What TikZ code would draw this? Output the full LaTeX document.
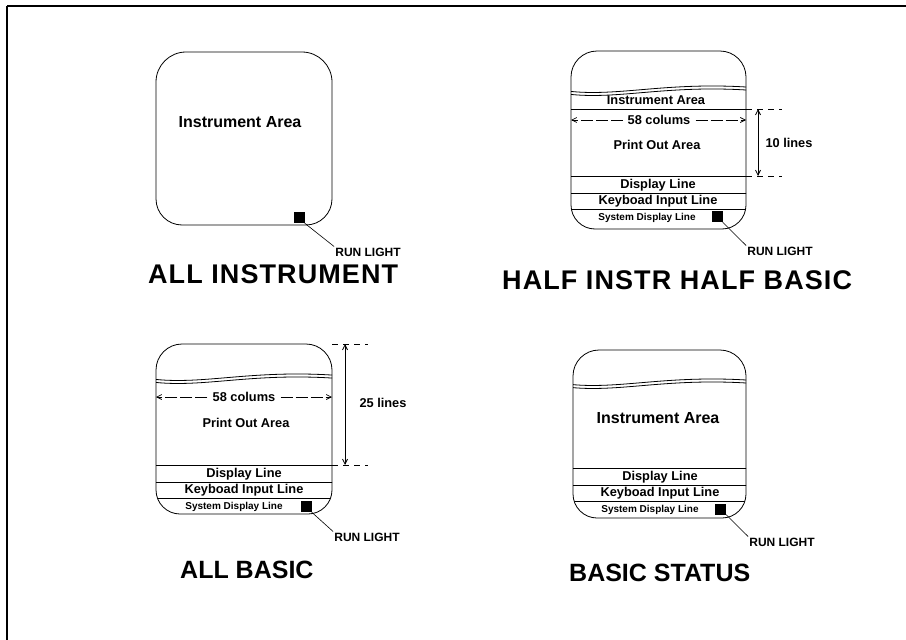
\documentclass[tikz,border=0pt]{standalone}
\usepackage{fontspec}
\setmainfont{Liberation Sans}
\newfontfamily\capfont[LetterSpace=4]{Liberation Sans}
\usetikzlibrary{arrows.meta}
% l t r b rtop rbottom options
\newcommand\rboxpath[7]{\path[#7] (#1,#2+#5) .. controls (#1,#2+0.45*#5) and (#1+0.45*#5,#2) .. (#1+#5,#2) -- (#3-#5,#2) .. controls (#3-0.45*#5,#2) and (#3,#2+0.45*#5) .. (#3,#2+#5) -- (#3,#4-#6) .. controls (#3,#4-0.45*#6) and (#3-0.45*#6,#4) .. (#3-#6,#4) -- (#1+#6,#4) .. controls (#1+0.45*#6,#4) and (#1,#4-0.45*#6) .. (#1,#4-#6) -- cycle;}
\begin{document}
\begin{tikzpicture}[x=1pt,y=-1pt,
  boxline/.style={draw=black,line width=0.8pt},
  sepline/.style={line width=0.8pt},
  lbl/.style={font=\bfseries\fontsize{12.8}{13}\selectfont, inner sep=0pt},
  collbl/.style={font=\bfseries\fontsize{12.8}{13}\selectfont, inner sep=5pt},
  biglbl/.style={font=\bfseries\fontsize{16}{16}\selectfont, inner sep=0pt},
  syslbl/.style={font=\bfseries\fontsize{10}{10}\selectfont, inner sep=0pt},
  captop/.style={font=\capfont\bfseries\fontsize{27}{27}\selectfont, inner sep=0pt, anchor=west},
  capbot/.style={font=\bfseries\fontsize{25}{25}\selectfont, inner sep=0pt, anchor=west},
  runsq/.style={fill=black, minimum size=11pt, inner sep=0pt},
  runlbl/.style={font=\bfseries\fontsize{12}{12}\selectfont, inner sep=1pt},
  leader/.style={line width=0.6pt},
  colarrow/.style={line width=0.7pt, dash pattern=on 12pt off 3pt, -{Straight Barb[length=5pt,width=5pt]}},
  dimarrow/.style={line width=0.8pt, {Straight Barb[length=5pt,width=5pt]}-{Straight Barb[length=5pt,width=5pt]}},
  extline/.style={line width=0.7pt, dash pattern=on 6pt off 5pt},
  wave/.style={line width=0.8pt}
]
\useasboundingbox (0,0) rectangle (906,640);
\fill[white] (0,0) rectangle (906,640);
% frame
\coordinate (fTL) at (7,6);
\coordinate (fTR) at (906,6);
\coordinate (fBL) at (7,640);
\draw[line width=2pt] (fTL) -- (fTR);
\draw[line width=1.2pt] (fTL) -- (fBL);

% ---------- Panel 1: ALL INSTRUMENT ----------
\rboxpath{156}{52}{332}{225}{30}{26}{boxline}
\node[biglbl] (ia1) at (240,122) {Instrument Area};
\node[runsq] (sq1) at (299,217.5) {};
\node[runlbl] (rl1) at (368,252) {RUN LIGHT};
\draw[leader] (sq1.south east) -- (rl1.north west);
\node[captop] (cap1) at (148,274) {ALL INSTRUMENT};

% ---------- Panel 2: HALF INSTR HALF BASIC ----------
\begin{scope}
\rboxpath{571}{51}{746}{229}{26}{24}{clip}
\draw[wave] (560,90) .. controls (615,99) and (665,80) .. (760,88);
\draw[wave] (560,93) .. controls (615,102) and (665,83) .. (760,91);
\draw[sepline] (560,109) -- (760,109);
\draw[sepline] (560,176) -- (760,176);
\draw[sepline] (560,193) -- (760,193);
\draw[sepline] (560,209) -- (760,209);
\end{scope}
\rboxpath{571}{51}{746}{229}{26}{24}{boxline}
\node[lbl] (ia2) at (656,100) {Instrument Area};
\node[collbl] (c2) at (659,120) {58 colums};
\coordinate (c2L) at (571,120);
\coordinate (c2R) at (746,120);
\draw[colarrow] (c2.west) -- (c2L);
\draw[colarrow] (c2.east) -- (c2R);
\node[lbl] (po2) at (657,145) {Print Out Area};
\node[lbl] (dl2) at (658,185) {Display Line};
\node[lbl] (kb2) at (658,201.5) {Keyboad Input Line};
\node[syslbl] (sd2) at (647,218) {System Display Line};
\node[runsq] (sq2) at (717,216.5) {};
\node[runlbl] (rl2) at (780,251) {RUN LIGHT};
\draw[leader] (sq2.south east) -- (rl2.north west);
\coordinate (d2t) at (758,109);
\coordinate (d2b) at (758,176);
\draw[dimarrow] (d2t) -- (d2b);
\coordinate (e2a) at (746,109);
\coordinate (e2b) at (782,109);
\coordinate (e2c) at (746,176);
\coordinate (e2d) at (782,176);
\draw[extline] (e2a) -- (e2b);
\draw[extline] (e2c) -- (e2d);
\node[lbl] (n2) at (789,143) {10 lines};
\node[captop] (cap2) at (502,280) {HALF INSTR HALF BASIC};

% ---------- Panel 3: ALL BASIC ----------
\begin{scope}
\rboxpath{156}{344}{332}{514}{26}{24}{clip}
\draw[wave] (145,378) .. controls (200,387) and (250,368) .. (345,376);
\draw[wave] (145,381) .. controls (200,390) and (250,371) .. (345,379);
\draw[sepline] (145,465) -- (345,465);
\draw[sepline] (145,482) -- (345,482);
\draw[sepline] (145,498) -- (345,498);
\end{scope}
\rboxpath{156}{344}{332}{514}{26}{24}{boxline}
\node[collbl] (c3) at (244,397) {58 colums};
\coordinate (c3L) at (156,397);
\coordinate (c3R) at (332,397);
\draw[colarrow] (c3.west) -- (c3L);
\draw[colarrow] (c3.east) -- (c3R);
\node[lbl] (po3) at (246,423) {Print Out Area};
\node[lbl] (dl3) at (244,474) {Display Line};
\node[lbl] (kb3) at (244,490.5) {Keyboad Input Line};
\node[syslbl] (sd3) at (234,506.5) {System Display Line};
\node[runsq] (sq3) at (306,506.5) {};
\node[runlbl] (rl3) at (367,537) {RUN LIGHT};
\draw[leader] (sq3.south east) -- (rl3.north west);
\coordinate (d3t) at (345,344);
\coordinate (d3b) at (345,465);
\draw[dimarrow] (d3t) -- (d3b);
\coordinate (e3a) at (332,344);
\coordinate (e3b) at (368,344);
\coordinate (e3c) at (332,465);
\coordinate (e3d) at (368,465);
\draw[extline] (e3a) -- (e3b);
\draw[extline] (e3c) -- (e3d);
\node[lbl] (n3) at (383,403) {25 lines};
\node[capbot] (cap3) at (180,570) {ALL BASIC};

% ---------- Panel 4: BASIC STATUS ----------
\begin{scope}
\rboxpath{573}{350}{746}{518}{26}{24}{clip}
\draw[wave] (560,383) .. controls (615,392) and (665,373) .. (760,381);
\draw[wave] (560,386) .. controls (615,395) and (665,376) .. (760,384);
\draw[sepline] (560,468) -- (760,468);
\draw[sepline] (560,485) -- (760,485);
\draw[sepline] (560,501) -- (760,501);
\end{scope}
\rboxpath{573}{350}{746}{518}{26}{24}{boxline}
\node[biglbl] (ia4) at (658,418) {Instrument Area};
\node[lbl] (dl4) at (660,477) {Display Line};
\node[lbl] (kb4) at (660,493.5) {Keyboad Input Line};
\node[syslbl] (sd4) at (650,509.5) {System Display Line};
\node[runsq] (sq4) at (720.5,509) {};
\node[runlbl] (rl4) at (782,542) {RUN LIGHT};
\draw[leader] (sq4.south east) -- (rl4.north west);
\node[capbot] (cap4) at (569,573) {BASIC STATUS};
\end{tikzpicture}
\end{document}
